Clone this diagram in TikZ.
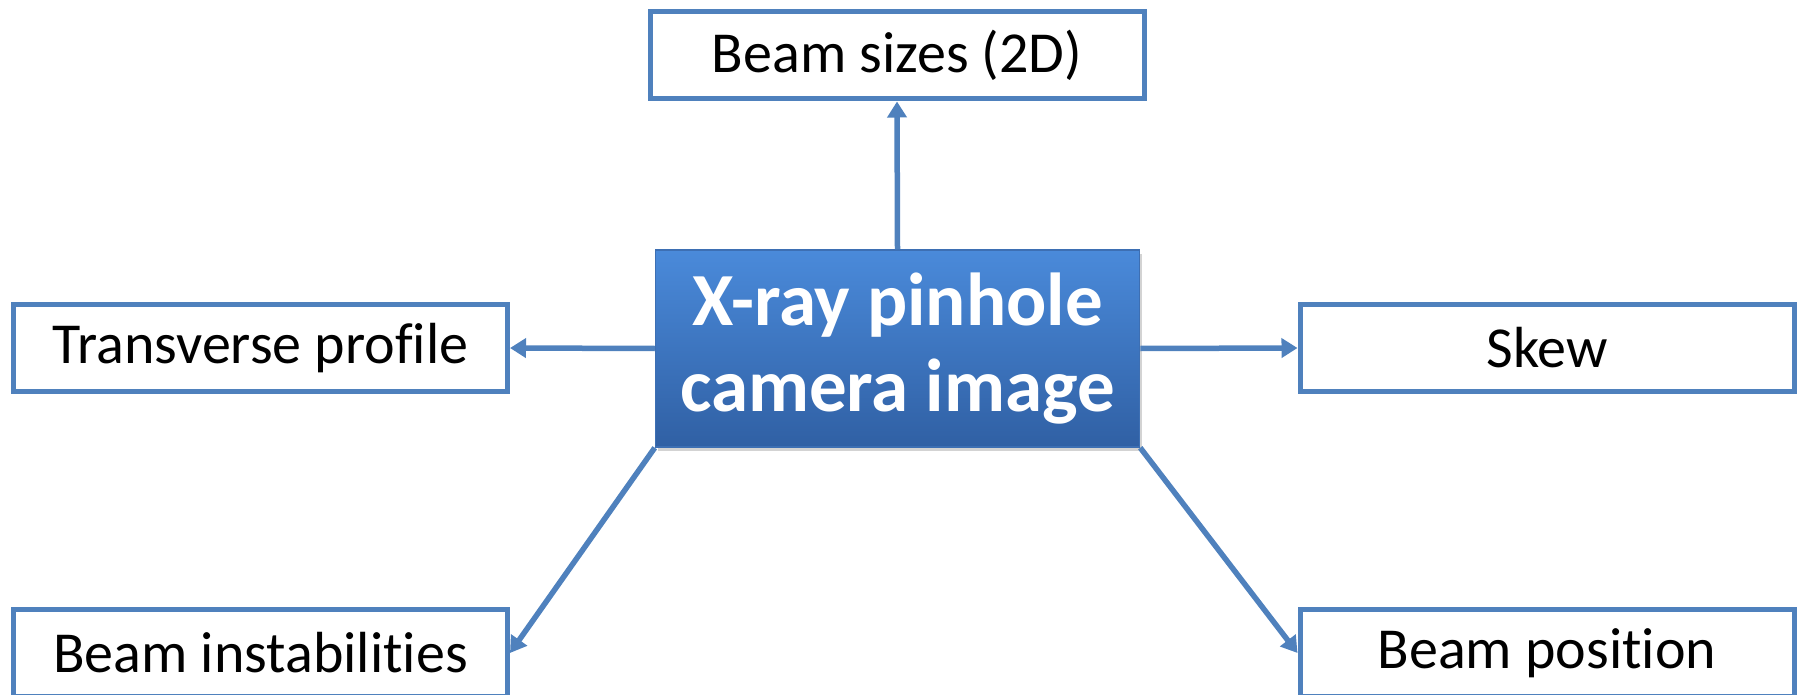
\documentclass[tikz,border=0pt]{standalone}
\usepackage{fontspec}
\setmainfont[Ligatures=NoCommon]{Carlito}
\usetikzlibrary{positioning,arrows.meta,shadows}
\definecolor{mBoxBlue}{HTML}{4F81BD}
\definecolor{mTopBlue}{HTML}{4A8ADA}
\definecolor{mLowBlue}{HTML}{3060A4}
\definecolor{mEdgeBlue}{HTML}{3D6FB3}
\tikzset{
  outbox/.style={draw=mBoxBlue, line width=5pt, fill=white, inner sep=0pt,
    minimum width=494pt, minimum height=87pt, font=\fontsize{58}{70}\selectfont},
  hubbox/.style={draw=mEdgeBlue, line width=1.5pt, top color=mTopBlue, bottom color=mLowBlue,
    minimum width=484pt, minimum height=197pt, align=center, text=white,
    font=\bfseries\fontsize{75}{86}\selectfont,
    drop shadow={shadow xshift=2pt, shadow yshift=-4pt, opacity=0.35}},
  link/.style={-{Triangle[length=16pt,width=19pt]}, draw=mBoxBlue, line width=5.5pt}
}

\begin{document}
\begin{tikzpicture}[x=1pt, y=-1pt]
\useasboundingbox (0,0) rectangle (1802,695);
% camera image in the middle, results around it
\node[hubbox] (hub) at (897.5,348.5) {X-ray pinhole\\camera image};
\node[outbox] (sizes) at (897,55.5) {Beam sizes (2D)};
\node[outbox] (trans) at (260.5,348) {Transverse profile};
\node[outbox] (skew) at (1547,348) {Skew};
\node[outbox] (instab) at (260.5,653) {Beam instabilities};
\node[outbox] (posn) at (1547,653) {Beam position};
\draw[link] (hub.north) -- (sizes.south);
\draw[link] (hub.west) -- (trans.east);
\draw[link] (hub.east) -- (skew.west);
\draw[link] (hub.south west) -- (instab.east);
\draw[link] (hub.south east) -- (posn.west);
\end{tikzpicture}
\end{document}
